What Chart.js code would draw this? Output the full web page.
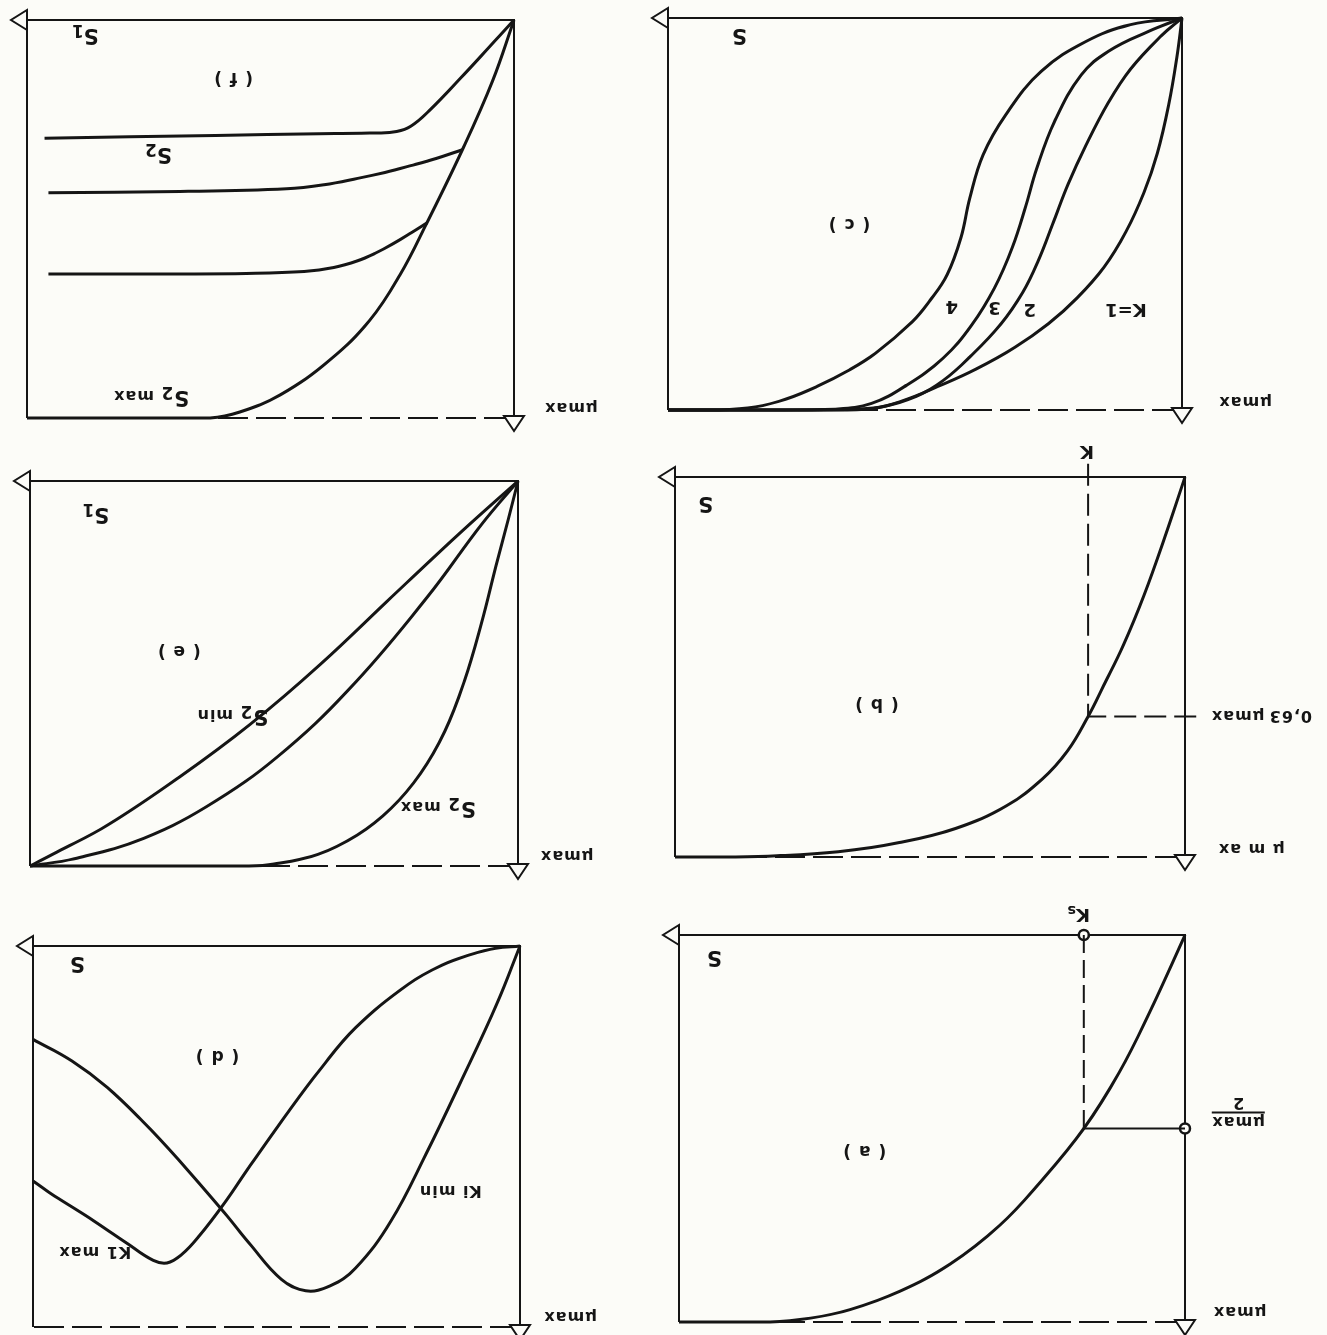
<!DOCTYPE html>
<html>
<head>
<meta charset="utf-8">
<title>Specific growth rate curves</title>
<script src="https://cdn.jsdelivr.net/npm/chart.js@4.4.1/dist/chart.umd.min.js"></script>
<style>
  html, body {
    margin: 0;
    padding: 0;
    background: #fcfcf8;
  }

  /* the whole sheet is printed upside down */
  #sheet {
    position: relative;
    width: 1327px;
    height: 1335px;
    overflow: hidden;
    transform: rotate(180deg);
  }

  .panel {
    position: absolute;
  }

  .tag {
    position: absolute;
    transform: translate(-50%, -50%);
    white-space: nowrap;
    font-family: "DejaVu Sans", sans-serif;
    font-weight: bold;
    color: #151515;
    line-height: 1;
    font-size: 15px;
  }

  .tag sub {
    font-size: 0.8em;
    vertical-align: -0.25em;
  }

  .big { font-size: 21px; }
  .mid { font-size: 18px; }
  .panel-name { font-size: 17px; letter-spacing: 1px; }
  .axis-mu { font-size: 16px; letter-spacing: 1px; }

  .frac {
    display: inline-block;
    text-align: center;
  }

  .frac span {
    display: block;
  }

  .frac .num {
    border-bottom: 2px solid #151515;
    padding-bottom: 1px;
  }
</style>
</head>
<body>
<div id="sheet"></div>

<script>
// S is given in % of the plotted range, mu as a fraction of mu max

// (a) Monod
const aS = [0, 7, 13, 20, 28.7, 36.6, 46.4, 56.3, 66.2, 74, 82, 100];
const aMu = [0, 0.2, 0.355, 0.5, 0.64, 0.75, 0.85, 0.92, 0.968, 0.99, 1, 1];
const aKs = 20;
const aHalf = 0.5;

// (b) Teissier
const bS = [0, 4, 8, 12, 16, 19, 23, 28, 35, 45, 56, 68, 80, 90, 100];
const bMu = [0, 0.16, 0.31, 0.44, 0.55, 0.63, 0.72, 0.795, 0.865, 0.925, 0.962, 0.986, 0.997, 1, 1];
const bK = 19;
const bLevel = 0.63;

// (c) Moser, K = 1..4
const c1S = [0, 1, 2.6, 4.8, 7.4, 10.9, 15.2, 20.4, 26, 32.5, 40, 47.5, 54, 60, 75, 100];
const c1Mu = [0, 0.1, 0.222, 0.345, 0.445, 0.545, 0.636, 0.714, 0.78, 0.84, 0.895, 0.94, 0.975, 0.995, 1, 1];
const c2S = [0, 4, 10, 14.3, 18.7, 22.2, 25, 28, 31, 35.2, 41.3, 46.5, 51.7, 58.7, 66, 100];
const c2Mu = [0, 0.045, 0.13, 0.215, 0.325, 0.425, 0.52, 0.62, 0.7, 0.78, 0.865, 0.925, 0.965, 0.993, 1, 1];
const c3S = [0, 6.5, 14.3, 19.6, 24.8, 28.3, 30.4, 33, 36.5, 40.9, 46.5, 53.5, 60.4, 67.4, 80, 100];
const c3Mu = [0, 0.034, 0.085, 0.145, 0.264, 0.385, 0.48, 0.585, 0.689, 0.783, 0.868, 0.936, 0.983, 0.998, 1, 1];
const c4S = [0, 10, 18.7, 27.4, 34.3, 38.7, 41.3, 43, 45.7, 49, 52.5, 59.6, 65, 71, 77, 83, 90, 100];
const c4Mu = [0, 0.017, 0.06, 0.136, 0.247, 0.349, 0.46, 0.56, 0.655, 0.72, 0.775, 0.855, 0.9, 0.94, 0.972, 0.992, 1, 1];

// (d) substrate inhibition, Ki min / Ki max
const dMinS = [0, 4.7, 12, 19.3, 26.5, 33.8, 39, 44, 49, 55.6, 60.7, 70.2, 77.5, 84.7, 92, 100];
const dMinMu = [0, 0.15, 0.352, 0.546, 0.722, 0.846, 0.892, 0.905, 0.875, 0.78, 0.7, 0.56, 0.46, 0.372, 0.302, 0.245];
const dMaxS = [0, 5, 10, 16, 22.9, 33.8, 41.1, 48.4, 55.6, 60.7, 65.8, 69.5, 72.5, 75.3, 81.1, 88.4, 95.6, 100];
const dMaxMu = [0, 0.006, 0.022, 0.05, 0.1, 0.215, 0.325, 0.45, 0.58, 0.675, 0.76, 0.81, 0.832, 0.825, 0.777, 0.714, 0.656, 0.617];

// (e) two substrates, S2 min .. S2 max
const e1S = [0, 11.3, 25.8, 40.4, 54.9, 69.5, 84, 94.5, 100];
const e1Mu = [0, 0.128, 0.3, 0.475, 0.632, 0.77, 0.893, 0.964, 1];
const e2S = [0, 7.3, 18.5, 33.1, 47.3, 61.8, 76.7, 90.9, 100];
const e2Mu = [0, 0.11, 0.3, 0.52, 0.695, 0.83, 0.928, 0.981, 1];
const e3S = [0, 2, 4.5, 7.5, 11, 15, 20, 26, 33, 41, 50, 56, 70, 100];
const e3Mu = [0, 0.1, 0.22, 0.37, 0.52, 0.65, 0.76, 0.85, 0.92, 0.97, 0.995, 1, 1, 1];

// (f) S1 curves limited by S2
const fMaxS = [0, 4.4, 10.6, 17.9, 23.4, 29.6, 37.8, 48, 56.3, 62.4, 75, 100];
const fMaxMu = [0, 0.153, 0.326, 0.51, 0.64, 0.754, 0.854, 0.942, 0.985, 1, 1, 1];
const f1S = [0, 3, 10.2, 17.5, 21.2, 24.1, 28, 40, 61.3, 96.4];
const f1Mu = [0, 0.04, 0.136, 0.229, 0.267, 0.28, 0.284, 0.286, 0.29, 0.297];
const f2S = [10.6, 16, 21.2, 26.5, 32.1, 39, 46.7, 68.6, 95.6];
const f2Mu = [0.326, 0.348, 0.366, 0.383, 0.398, 0.414, 0.424, 0.431, 0.434];
const f3S = [17.9, 21, 24.8, 28.5, 32.1, 37, 43.1, 55, 70, 95.6];
const f3Mu = [0.51, 0.534, 0.562, 0.586, 0.605, 0.622, 0.632, 0.637, 0.638, 0.638];

const ink = "#151515";
const paper = "#fcfcf8";
const PAD = 32;

function points(xs, ys) {
  return xs.map((x, i) => ({ x, y: ys[i] }));
}

function curve(xs, ys) {
  return {
    data: points(xs, ys),
    borderColor: ink,
    borderWidth: 3,
    pointRadius: 0,
    fill: false,
    tension: 0.4,
    clip: 6,
  };
}

function guide(xs, ys, dash) {
  return {
    data: points(xs, ys),
    borderColor: ink,
    borderWidth: 2,
    borderDash: dash || [],
    pointRadius: 0,
    fill: false,
    tension: 0,
    clip: false,
  };
}

function markers(xs, ys) {
  return {
    data: points(xs, ys),
    showLine: false,
    pointRadius: 5,
    pointBorderWidth: 2.5,
    pointBorderColor: ink,
    pointBackgroundColor: paper,
    clip: false,
  };
}

const muMax = "&mu;max";

const panels = [
  {
    box: { left: 142, top: 13, width: 506, height: 387 },
    datasets: [
      guide([aKs, aKs], [0, aHalf], [18, 7]),
      guide([0, aKs], [aHalf, aHalf]),
      curve(aS, aMu),
      markers([aKs, 0], [0, aHalf]),
    ],
    labels: [
      ["S", 93, 0.06, "big"],
      ["( a )", 63.4, 0.56, "panel-name"],
      ["K<sub>s</sub>", 21, -0.055, "mid"],
      [`<span class="frac"><span class="num">${muMax}</span><span>2</span></span>`, -10.5, 0.46, "axis-mu"],
      [muMax, -10.8, 0.975, "axis-mu"],
    ],
  },
  {
    box: { left: 142, top: 478, width: 510, height: 380 },
    datasets: [
      guide([bK, bK], [-0.035, bLevel], [22, 8]),
      guide([-2.2, bK], [bLevel, bLevel], [22, 8]),
      curve(bS, bMu),
    ],
    labels: [
      ["S", 94, 0.071, "big"],
      ["( b )", 60.5, 0.6, "panel-name"],
      ["K", 19.2, -0.066, "mid"],
      ["0,63&thinsp;&mu;max", -15, bLevel, "axis-mu"],
      ["&mu; m ax", -13, 0.98, "axis-mu"],
    ],
  },
  {
    box: { left: 145, top: 925, width: 514, height: 392 },
    datasets: [
      curve(c1S, c1Mu),
      curve(c2S, c2Mu),
      curve(c3S, c3Mu),
      curve(c4S, c4Mu),
    ],
    labels: [
      ["S", 86.1, 0.047, "big"],
      ["( c )", 64.8, 0.528, "panel-name"],
      ["K=1", 10.9, 0.745, "mid"],
      ["2", 29.6, 0.745, "mid"],
      ["3", 36.5, 0.74, "mid"],
      ["4", 44.8, 0.736, "mid"],
      [muMax, -12.3, 0.98, "axis-mu"],
    ],
  },
  {
    box: { left: 807, top: 8, width: 487, height: 381 },
    datasets: [
      curve(dMinS, dMinMu),
      curve(dMaxS, dMaxMu),
    ],
    labels: [
      ["S", 90.9, 0.048, "big"],
      ["( d )", 62.2, 0.291, "panel-name"],
      ["Ki min", 14.3, 0.643, "axis-mu"],
      ["K1 max", 87.3, 0.802, "axis-mu"],
      [muMax, -10.3, 0.975, "axis-mu"],
    ],
  },
  {
    box: { left: 809, top: 469, width: 488, height: 385 },
    datasets: [
      curve(e1S, e1Mu),
      curve(e2S, e2Mu),
      curve(e3S, e3Mu),
    ],
    labels: [
      ["S<sub>1</sub>", 86.5, 0.084, "big"],
      ["( e )", 69.5, 0.444, "panel-name"],
      ["<span class=\"big\">S<sub>2</sub></span> min", 58.5, 0.608, "axis-mu"],
      ["<span class=\"big\">S<sub>2</sub></span> max", 16.4, 0.847, "axis-mu"],
      [muMax, -10, 0.975, "axis-mu"],
    ],
  },
  {
    box: { left: 813, top: 917, width: 487, height: 398 },
    datasets: [
      curve(fMaxS, fMaxMu),
      curve(f1S, f1Mu),
      curve(f2S, f2Mu),
      curve(f3S, f3Mu),
    ],
    labels: [
      ["S<sub>1</sub>", 88, 0.035, "big"],
      ["( f )", 57.7, 0.149, "panel-name"],
      ["S<sub>2</sub>", 73, 0.334, "big"],
      ["<span class=\"big\">S<sub>2</sub></span> max", 74.5, 0.945, "axis-mu"],
      [muMax, -11.7, 0.975, "axis-mu"],
    ],
  },
];

// axes with open arrow heads, right border and dashed mu max line
const framePlugin = {
  id: "frame",
  beforeDatasetsDraw(chart) {
    const { ctx } = chart;
    const { x, y } = chart.scales;
    const x0 = x.getPixelForValue(0);
    const x1 = x.getPixelForValue(100);
    const y0 = y.getPixelForValue(0);
    const y1 = y.getPixelForValue(1);

    ctx.save();
    ctx.strokeStyle = ink;
    ctx.fillStyle = paper;
    ctx.lineWidth = 2;

    ctx.setLineDash([30, 8]);
    ctx.beginPath();
    ctx.moveTo(x0, y1);
    ctx.lineTo(x1, y1);
    ctx.stroke();

    ctx.setLineDash([]);
    ctx.beginPath();
    ctx.moveTo(x0, y1);
    ctx.lineTo(x0, y0);
    ctx.lineTo(x1, y0);
    ctx.moveTo(x1, y0);
    ctx.lineTo(x1, y1);
    ctx.stroke();

    ctx.beginPath();
    ctx.moveTo(x1, y0 - 10);
    ctx.lineTo(x1 + 16, y0);
    ctx.lineTo(x1, y0 + 10);
    ctx.closePath();
    ctx.fill();
    ctx.stroke();

    ctx.beginPath();
    ctx.moveTo(x0 - 10, y1 + 2);
    ctx.lineTo(x0, y1 - 13);
    ctx.lineTo(x0 + 10, y1 + 2);
    ctx.closePath();
    ctx.fill();
    ctx.stroke();
    ctx.restore();
  },
};

function renderPanel(sheet, panel) {
  const { box } = panel;
  const holder = document.createElement("div");
  holder.className = "panel";
  holder.style.left = `${box.left - PAD}px`;
  holder.style.top = `${box.top - PAD}px`;
  holder.style.width = `${box.width + 2 * PAD}px`;
  holder.style.height = `${box.height + 2 * PAD}px`;
  const canvas = document.createElement("canvas");
  holder.appendChild(canvas);
  sheet.appendChild(holder);

  const chart = new Chart(canvas, {
    type: "line",
    data: { datasets: panel.datasets },
    options: {
      responsive: true,
      maintainAspectRatio: false,
      animation: false,
      events: [],
      layout: { padding: PAD },
      plugins: {
        legend: { display: false },
        tooltip: { enabled: false },
      },
      scales: {
        x: { type: "linear", min: 0, max: 100, display: false },
        y: { type: "linear", min: 0, max: 1, display: false },
      },
    },
    plugins: [framePlugin],
  });

  panel.labels.forEach(([html, s, mu, cls]) => {
    const tag = document.createElement("div");
    tag.className = `tag ${cls}`;
    tag.innerHTML = html;
    tag.style.left = `${box.left - PAD + chart.scales.x.getPixelForValue(s)}px`;
    tag.style.top = `${box.top - PAD + chart.scales.y.getPixelForValue(mu)}px`;
    sheet.appendChild(tag);
  });
}

const sheet = document.querySelector("#sheet");
panels.forEach((panel) => renderPanel(sheet, panel));
</script>
</body>
</html>
